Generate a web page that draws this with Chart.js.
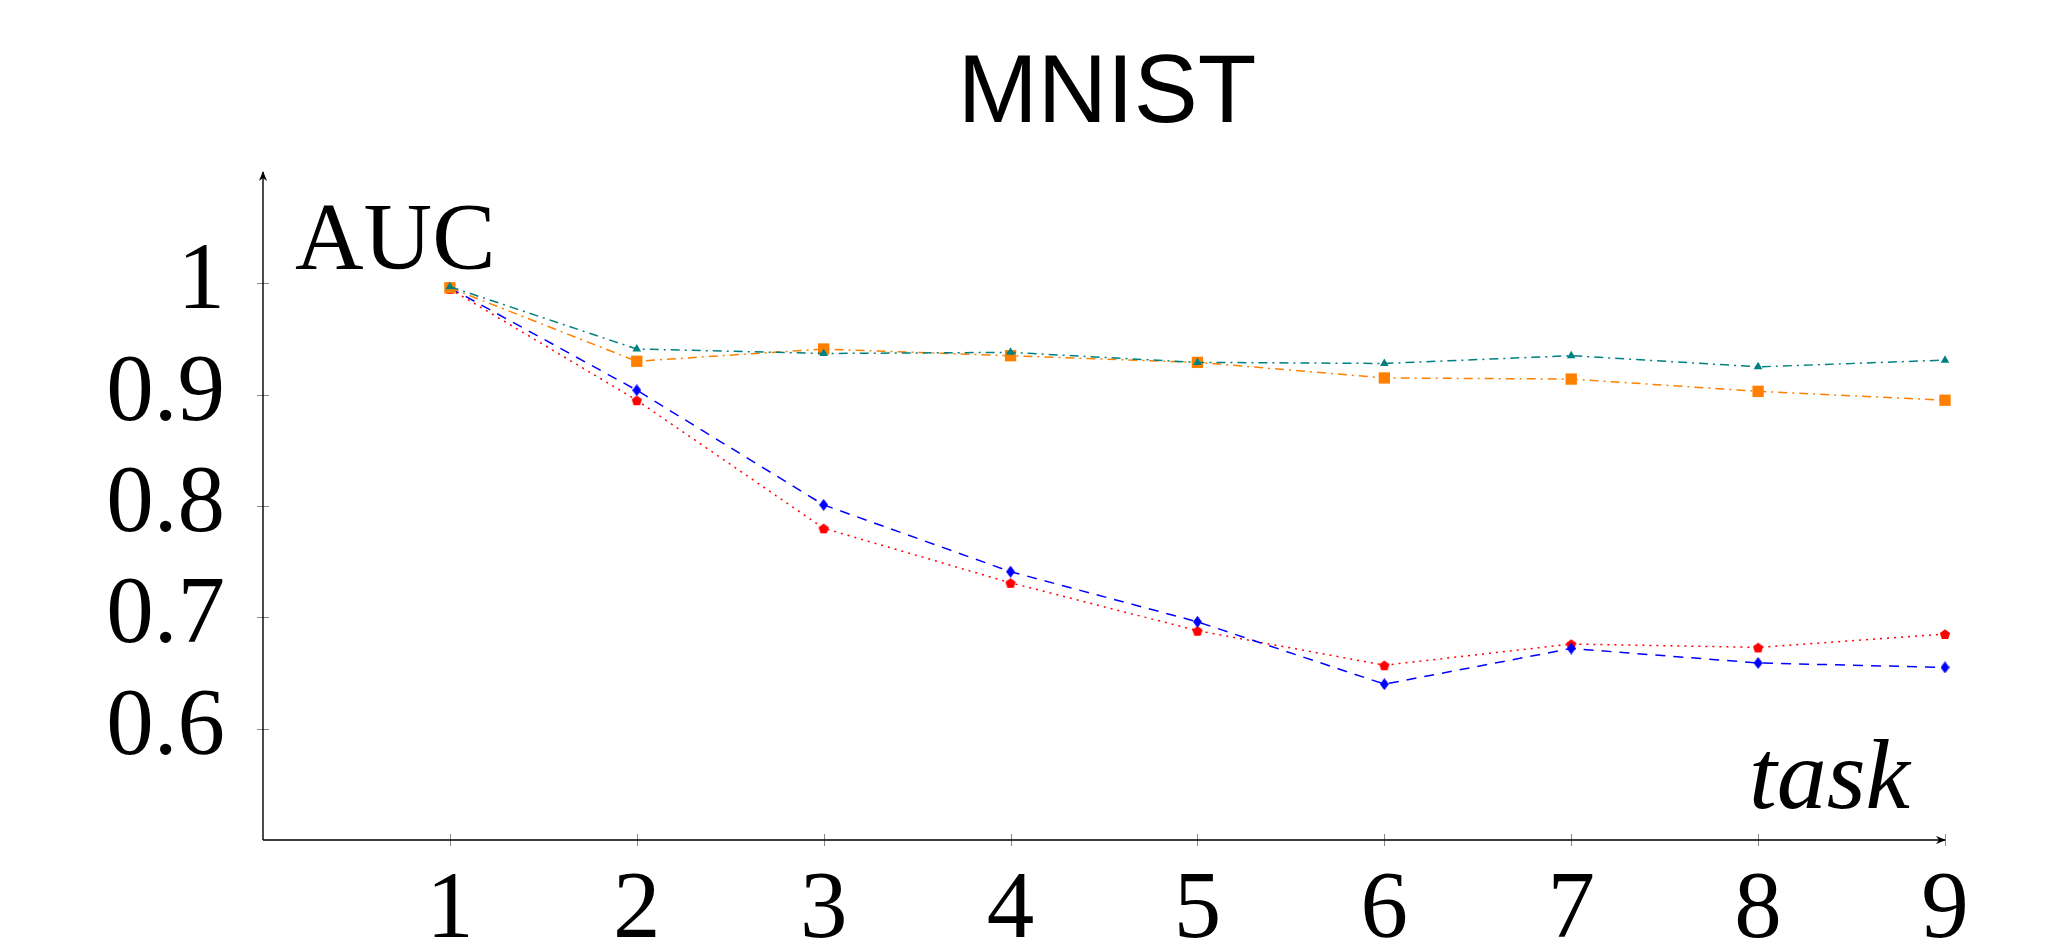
<!DOCTYPE html>
<html>
<head>
<meta charset="utf-8">
<title>MNIST</title>
<script src="https://cdn.jsdelivr.net/npm/chart.js@4.4.1/dist/chart.umd.min.js"></script>
<style>
  html, body { margin: 0; padding: 0; background: #fff; }
  canvas { display: block; }
</style>
</head>
<body>
<canvas id="aucChart" width="2054" height="947"></canvas>
<script>
// Values
const tasks = [1, 2, 3, 4, 5, 6, 7, 8, 9];
const yTicks = [0.6, 0.7, 0.8, 0.9, 1];
const tealAuc = [0.997, 0.941, 0.937, 0.938, 0.929, 0.928, 0.935, 0.925, 0.931];
const orangeAuc = [0.996, 0.930, 0.941, 0.935, 0.929, 0.915, 0.914, 0.903, 0.895];
const blueAuc = [0.996, 0.904, 0.801, 0.741, 0.696, 0.640, 0.672, 0.659, 0.655];
const redAuc = [0.995, 0.895, 0.780, 0.731, 0.688, 0.657, 0.676, 0.673, 0.685];

const serif = "'Liberation Serif', 'Times New Roman', serif";

// Build little canvases for the marker shapes Chart.js doesn't have
const makeMarker = (w, h, color, drawPath) => {
  const c = document.createElement("canvas");
  c.width = w;
  c.height = h;
  const g = c.getContext("2d");
  g.fillStyle = color;
  g.beginPath();
  drawPath(g, w, h);
  g.closePath();
  g.fill();
  return c;
};

const diamond = makeMarker(9, 12, "rgb(0,0,255)", (g, w, h) => {
  g.moveTo(w / 2, 0);
  g.lineTo(w, h / 2);
  g.lineTo(w / 2, h);
  g.lineTo(0, h / 2);
});

const pentagon = makeMarker(12, 12, "rgb(255,0,0)", (g, w, h) => {
  for (let i = 0; i < 5; i++) {
    const a = -Math.PI / 2 + (i * 2 * Math.PI) / 5;
    const px = w / 2 + 5.4 * Math.cos(a);
    const py = h / 2 + 0.6 + 5.4 * Math.sin(a);
    if (i === 0) g.moveTo(px, py);
    else g.lineTo(px, py);
  }
});

const toPoints = (vals) => tasks.map((t, i) => ({ x: t, y: vals[i] }));

// Draws the pgfplots-style axes: arrows, crossing ticks and the text labels
const axesPlugin = {
  id: "pgfAxes",
  beforeDatasetsDraw(chart) {
    const { ctx, chartArea: a, scales } = chart;
    const xs = scales.x;
    const ys = scales.y;
    ctx.save();

    // tick marks crossing the axes
    ctx.strokeStyle = "#8a8a8a";
    ctx.lineWidth = 1;
    ctx.beginPath();
    tasks.forEach((t) => {
      const px = Math.round(xs.getPixelForValue(t)) + 0.5;
      ctx.moveTo(px, a.bottom - 6);
      ctx.lineTo(px, a.bottom + 6);
    });
    yTicks.forEach((v) => {
      const py = Math.round(ys.getPixelForValue(v)) + 0.5;
      ctx.moveTo(a.left - 6, py);
      ctx.lineTo(a.left + 6, py);
    });
    ctx.stroke();

    // axis lines
    ctx.strokeStyle = "#000";
    ctx.lineWidth = 1.4;
    ctx.beginPath();
    ctx.moveTo(a.left, a.bottom);
    ctx.lineTo(a.right, a.bottom);
    ctx.moveTo(a.left, a.bottom);
    ctx.lineTo(a.left, a.top);
    ctx.stroke();

    // arrow heads
    ctx.fillStyle = "#000";
    ctx.beginPath();
    ctx.moveTo(a.right + 1, a.bottom);
    ctx.lineTo(a.right - 9, a.bottom - 4);
    ctx.lineTo(a.right - 6, a.bottom);
    ctx.lineTo(a.right - 9, a.bottom + 4);
    ctx.closePath();
    ctx.fill();
    ctx.beginPath();
    ctx.moveTo(a.left, a.top - 1);
    ctx.lineTo(a.left - 4, a.top + 9);
    ctx.lineTo(a.left, a.top + 6);
    ctx.lineTo(a.left + 4, a.top + 9);
    ctx.closePath();
    ctx.fill();

    // title and axis labels
    ctx.fillStyle = "#000";
    ctx.textBaseline = "alphabetic";
    ctx.textAlign = "center";
    ctx.font = "96px 'Liberation Sans', Arial, sans-serif";
    ctx.fillText("MNIST", (a.left + a.right) / 2 + 3, a.top - 50);

    ctx.textAlign = "left";
    ctx.font = "95px " + serif;
    ctx.fillText("AUC", a.left + 32, a.top + 97);

    ctx.textAlign = "right";
    ctx.font = "italic 100px " + serif;
    ctx.fillText("task", a.right - 35, a.bottom - 32);

    ctx.restore();
  },
};

const ctx = document.getElementById("aucChart").getContext("2d");
new Chart(ctx, {
  type: "line",
  data: {
    datasets: [
      {
        data: toPoints(tealAuc),
        borderColor: "rgb(0,128,128)",
        backgroundColor: "rgb(0,128,128)",
        borderWidth: 1.5,
        borderDash: [9, 5, 2, 5],
        pointStyle: "triangle",
        pointRadius: 5,
        pointBorderWidth: 0,
      },
      {
        data: toPoints(orangeAuc),
        borderColor: "rgb(255,128,0)",
        backgroundColor: "rgb(255,128,0)",
        borderWidth: 1.5,
        borderDash: [9, 5, 2, 5],
        pointStyle: "rect",
        pointRadius: 8,
        pointBorderWidth: 0,
      },
      {
        data: toPoints(blueAuc),
        borderColor: "rgb(0,0,255)",
        backgroundColor: "rgb(0,0,255)",
        borderWidth: 1.5,
        borderDash: [10, 8],
        pointStyle: diamond,
      },
      {
        data: toPoints(redAuc),
        borderColor: "rgb(255,0,0)",
        backgroundColor: "rgb(255,0,0)",
        borderWidth: 1.5,
        borderDash: [2, 5],
        pointStyle: pentagon,
      },
    ],
  },
  options: {
    responsive: false,
    animation: false,
    clip: false,
    layout: {
      padding: { top: 172, right: 109, left: 0, bottom: 0 },
    },
    elements: {
      line: { tension: 0, fill: false },
    },
    plugins: {
      legend: { display: false },
      title: { display: false },
      tooltip: { enabled: false },
    },
    scales: {
      x: {
        type: "linear",
        min: 0,
        max: 9,
        grid: { display: false, drawTicks: false },
        border: { display: false },
        afterBuildTicks: (scale) => {
          scale.ticks = tasks.map((v) => ({ value: v }));
        },
        afterFit: (scale) => {
          scale.height = 107;
        },
        ticks: {
          color: "#000",
          padding: 15,
          maxRotation: 0,
          autoSkip: false,
          font: { family: serif, size: 95 },
          callback: (v) => String(v),
        },
      },
      y: {
        type: "linear",
        min: 0.5,
        max: 1.1,
        grid: { display: false, drawTicks: false },
        border: { display: false },
        afterBuildTicks: (scale) => {
          scale.ticks = yTicks.map((v) => ({ value: v }));
        },
        afterFit: (scale) => {
          scale.width = 263;
        },
        ticks: {
          color: "#000",
          padding: 38,
          autoSkip: false,
          font: { family: serif, size: 95 },
          callback: (v) => String(v),
        },
      },
    },
  },
  plugins: [axesPlugin],
});
</script>
</body>
</html>
